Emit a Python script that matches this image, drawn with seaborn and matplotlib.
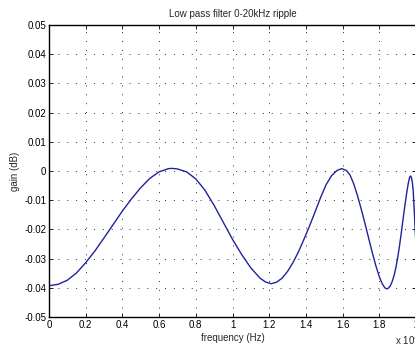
import numpy as np
import pandas as pd
import matplotlib
matplotlib.use("Agg")
import matplotlib.pyplot as plt
import seaborn as sns

# frequency in units of 1e4 Hz, gain in dB
freq = [0.0, 0.05, 0.10, 0.15, 0.20, 0.25, 0.30, 0.35, 0.40, 0.45, 0.50,
        0.55, 0.60, 0.65, 0.67, 0.70, 0.75, 0.80, 0.85, 0.90, 0.95, 1.00,
        1.05, 1.10, 1.15, 1.18, 1.21, 1.24, 1.27, 1.30, 1.33, 1.36, 1.39,
        1.42, 1.45, 1.48, 1.51, 1.54, 1.57, 1.595, 1.62, 1.64, 1.66, 1.68,
        1.70, 1.72, 1.74, 1.76, 1.78, 1.80, 1.815, 1.83, 1.84, 1.85, 1.86,
        1.87, 1.88, 1.89, 1.90, 1.91, 1.92, 1.93, 1.94, 1.95, 1.958, 1.965,
        1.970, 1.975, 1.980, 1.985, 1.990, 1.995, 2.0]
gain = [-0.0393, -0.0388, -0.0374, -0.0349, -0.0314, -0.0274, -0.0229, -0.0183,
        -0.0137, -0.0095, -0.0057, -0.0025, -0.0003, 0.0008, 0.0009, 0.0007,
        -0.0003, -0.0027, -0.0066, -0.0118, -0.0176, -0.0234, -0.0286, -0.0332,
        -0.0367, -0.0380, -0.0386, -0.0381, -0.0367, -0.0344, -0.0313, -0.0276,
        -0.0233, -0.0188, -0.0140, -0.0091, -0.0047, -0.0016, 0.0002, 0.0008,
        0.0002, -0.0013, -0.0043, -0.0082, -0.0127, -0.0175, -0.0225, -0.0275,
        -0.0322, -0.0362, -0.0385, -0.0400, -0.0404, -0.0401, -0.0393, -0.0379,
        -0.0359, -0.0332, -0.0298, -0.0257, -0.0211, -0.0163, -0.0116, -0.0072,
        -0.0042, -0.0022, -0.0017, -0.0022, -0.0038, -0.0070, -0.0130, -0.0195,
        -0.0260]

xticks = [0, 0.2, 0.4, 0.6, 0.8, 1.0, 1.2, 1.4, 1.6, 1.8, 2.0]
xticklabels = ["0", "0.2", "0.4", "0.6", "0.8", "1", "1.2", "1.4", "1.6", "1.8", "2"]
yticks = [0.05, 0.04, 0.03, 0.02, 0.01, 0, -0.01, -0.02, -0.03, -0.04, -0.05]
yticklabels = ["0.05", "0.04", "0.03", "0.02", "0.01", "0", "-0.01", "-0.02",
               "-0.03", "-0.04", "-0.05"]

df = pd.DataFrame({"freq": freq, "gain": gain})

sns.set_style("ticks")
plt.rcParams["font.family"] = ["Liberation Sans", "DejaVu Sans"]
plt.rcParams["font.size"] = 7
plt.rcParams["lines.scale_dashes"] = False

fig = plt.figure(figsize=(4.15, 3.46), dpi=100)
ax = fig.add_axes([49 / 415, 29 / 346, 367 / 415, 292 / 346])

sns.lineplot(data=df, x="freq", y="gain", ax=ax, color="#22229c", linewidth=1.0)

ax.set_xlim(0, 2)
ax.set_ylim(-0.05, 0.05)
ax.set_xticks(xticks)
ax.set_xticklabels(xticklabels)
ax.set_yticks(yticks)
ax.set_yticklabels(yticklabels)

ax.grid(True, color="#303030", linestyle=(0, (0.7, 5.7)), linewidth=0.7)
ax.tick_params(direction="in", length=3, width=0.6, top=True, right=True,
               labelsize=7, pad=2, colors="black")
for s in ax.spines.values():
    s.set_linewidth(1.0)
    s.set_color("black")

ax.set_title("Low pass filter 0-20kHz ripple", fontsize=7, pad=6)
ax.set_xlabel("frequency (Hz)", fontsize=7, labelpad=2)
ax.set_ylabel("gain (dB)", fontsize=7, labelpad=3)
fig.text(395 / 415, 6 / 346, "x 10$^4$", fontsize=7, va="center", ha="left")

fig.savefig("out.png", dpi=100)
